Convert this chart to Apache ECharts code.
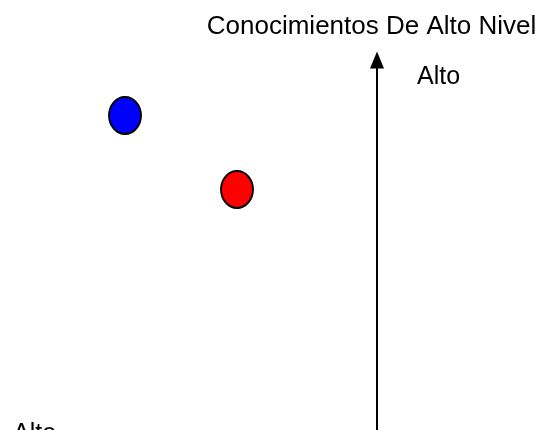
<!DOCTYPE html>
<html>
<head>
<meta charset="utf-8">
<script src="https://cdn.jsdelivr.net/npm/echarts@6/dist/echarts.min.js"></script>
<style>
  html, body { margin: 0; padding: 0; background: #fff; }
  #main { width: 545px; height: 430px; }
</style>
</head>
<body>
<div id="main"></div>
<script>
var chart = echarts.init(document.getElementById("main"));

// puntos del cuadrante
var point_x = [-6.3, -3.5];
var point_y = [8.5, 6.5];
var point_colors = ["#0000ff", "#ff0000"];

var y_name = "Conocimientos De Alto Nivel";
var top_label = "Alto";
var left_label = "Alto";

var font = "Liberation Sans, Arial, sans-serif";

var data = [];
for (var i = 0; i < point_x.length; i++) {
    data.push({
        value: [point_x[i], point_y[i]],
        itemStyle: { color: point_colors[i] }
    });
}

var option = {
    animation: false,
    grid: { left: 57, right: 8, top: 60, bottom: 0 },
    xAxis: {
        type: "value",
        min: -8,
        max: 4,
        show: false
    },
    yAxis: {
        type: "value",
        min: 0,
        max: 10,
        name: y_name,
        nameLocation: "end",
        nameGap: 20,
        nameTextStyle: {
            fontFamily: font,
            fontSize: 26,
            color: "#000",
            padding: [0, 11, 0, 0]
        },
        axisLine: {
            show: true,
            onZero: true,
            symbol: ["none", "triangle"],
            symbolSize: [14, 17],
            lineStyle: { color: "#000", width: 2 }
        },
        axisTick: { show: false },
        axisLabel: { show: false },
        splitLine: { show: false }
    },
    graphic: [
        {
            type: "text",
            left: 417,
            top: 65,
            style: { text: top_label, font: "25px " + font, fill: "#000" }
        },
        {
            type: "text",
            left: 13,
            top: 422,
            style: { text: left_label, font: "25px " + font, fill: "#000" }
        }
    ],
    series: [{
        type: "scatter",
        symbol: "circle",
        symbolSize: [32, 37],
        data: data,
        itemStyle: { borderColor: "#000", borderWidth: 2, opacity: 1 }
    }]
};

chart.setOption(option);
</script>
</body>
</html>
